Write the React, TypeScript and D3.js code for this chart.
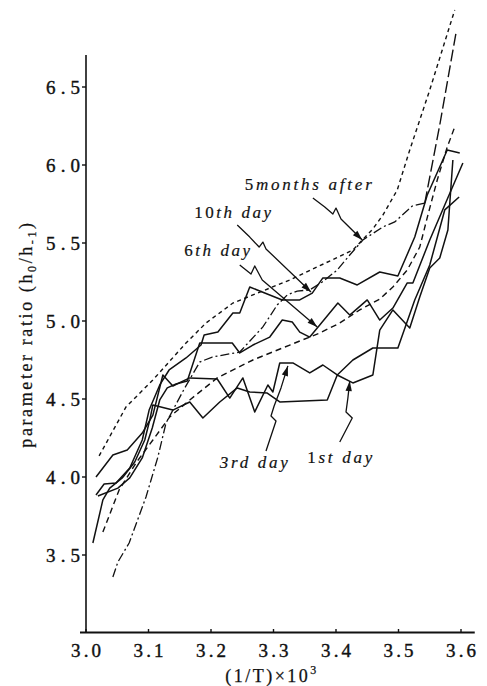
import React from "react";
import * as d3 from "d3";

type P = [number, number];

// ---- axis ticks ----
const xTicks = [3.0, 3.1, 3.2, 3.3, 3.4, 3.5, 3.6];
const xTickLabels = ["3.0", "3.1", "3.2", "3.3", "3.4", "3.5", "3.6"];
const yTicks = [3.5, 4.0, 4.5, 5.0, 5.5, 6.0, 6.5];
const yTickLabels = ["3.5", "4.0", "4.5", "5.0", "5.5", "6.0", "6.5"];

// ---- series (x = (1/T)x10^3, y = parameter ratio) ----
const curveShortDash: P[] = [
  [3.021, 4.135], [3.064, 4.449], [3.107, 4.622], [3.16, 4.859], [3.192, 4.987],
  [3.235, 5.115], [3.326, 5.263], [3.427, 5.455], [3.459, 5.59], [3.475, 5.679],
  [3.498, 5.84], [3.518, 6.096], [3.55, 6.481], [3.59, 6.994],
];

const fiveMonthsAfter: P[] = [
  [3.043, 3.359], [3.051, 3.455], [3.069, 3.577], [3.096, 3.872], [3.115, 4.128],
  [3.128, 4.346], [3.139, 4.429], [3.158, 4.571], [3.182, 4.737], [3.202, 4.769],
  [3.246, 4.801], [3.283, 4.962], [3.306, 5.103], [3.322, 5.167], [3.338, 5.192],
  [3.358, 5.199], [3.378, 5.25], [3.402, 5.327], [3.422, 5.423], [3.443, 5.519],
  [3.475, 5.603], [3.494, 5.635], [3.522, 5.737], [3.542, 5.756], [3.566, 6.256],
  [3.592, 6.846],
];
const fiveMonthsLongDashFrom = 23; // index where the dash-dot turns into long dashes

const curveMediumDash: P[] = [
  [3.027, 3.647], [3.053, 3.917], [3.08, 4.09], [3.107, 4.237], [3.134, 4.385],
  [3.166, 4.494], [3.21, 4.635], [3.267, 4.75], [3.326, 4.846], [3.374, 4.923],
  [3.406, 4.987], [3.438, 5.071], [3.47, 5.141], [3.491, 5.218], [3.514, 5.327],
  [3.534, 5.474], [3.547, 5.679], [3.562, 5.904], [3.578, 6.115], [3.59, 6.244],
];

const day10: P[] = [
  [3.016, 3.885], [3.029, 3.955], [3.048, 3.962], [3.07, 4.058], [3.09, 4.237],
  [3.101, 4.429], [3.118, 4.59], [3.133, 4.686], [3.16, 4.763], [3.184, 4.846],
  [3.189, 4.91], [3.211, 4.929], [3.235, 5.051], [3.246, 5.051], [3.262, 5.218],
  [3.274, 5.199], [3.314, 5.135], [3.342, 5.135], [3.362, 5.179], [3.379, 5.276],
  [3.406, 5.276], [3.434, 5.231], [3.47, 5.314], [3.499, 5.288], [3.526, 5.538],
  [3.546, 5.808], [3.578, 6.096], [3.598, 6.077],
];

const day6: P[] = [
  [3.019, 3.878], [3.051, 3.929], [3.07, 3.994], [3.09, 4.122], [3.106, 4.314],
  [3.118, 4.494], [3.13, 4.571], [3.144, 4.596], [3.162, 4.615], [3.182, 4.859],
  [3.234, 4.859], [3.246, 4.795], [3.267, 4.846], [3.294, 4.897], [3.314, 5.006],
  [3.33, 4.994], [3.342, 4.929], [3.358, 4.897], [3.374, 4.974], [3.403, 5.115],
  [3.422, 5.038], [3.45, 5.135], [3.47, 5.006], [3.491, 5.083], [3.514, 5.244],
  [3.523, 5.244], [3.55, 5.519], [3.574, 5.744], [3.603, 6.013],
];

const day3: P[] = [
  [3.016, 4.0], [3.043, 4.141], [3.066, 4.173], [3.09, 4.282], [3.107, 4.397],
  [3.123, 4.654], [3.139, 4.583], [3.149, 4.603], [3.166, 4.635], [3.21, 4.628],
  [3.23, 4.506], [3.251, 4.635], [3.27, 4.417], [3.291, 4.59], [3.299, 4.545],
  [3.31, 4.731], [3.331, 4.731], [3.358, 4.667], [3.379, 4.718], [3.402, 4.654],
  [3.427, 4.75], [3.459, 4.827], [3.499, 4.827], [3.526, 5.135], [3.55, 5.359],
  [3.574, 5.712], [3.597, 5.795],
];

const day1: P[] = [
  [3.011, 3.577], [3.027, 3.853], [3.038, 3.929], [3.058, 3.994], [3.078, 4.096],
  [3.094, 4.237], [3.102, 4.365], [3.107, 4.462], [3.139, 4.429], [3.166, 4.481],
  [3.187, 4.378], [3.214, 4.481], [3.242, 4.571], [3.262, 4.545], [3.29, 4.538],
  [3.31, 4.481], [3.386, 4.494], [3.402, 4.654], [3.427, 4.603], [3.459, 4.654],
  [3.47, 4.942], [3.491, 5.071], [3.518, 4.955], [3.534, 5.154], [3.55, 5.34],
  [3.566, 5.404], [3.579, 5.583], [3.587, 6.032],
];

// ---- annotation leaders (data coords), label anchors (data coords) ----
const leader5m: P[] = [[3.363, 5.788], [3.382, 5.731], [3.395, 5.686], [3.4, 5.724], [3.408, 5.654], [3.442, 5.519]];
const leader10: P[] = [[3.242, 5.615], [3.262, 5.538], [3.277, 5.474], [3.283, 5.506], [3.288, 5.462], [3.36, 5.186]];
const leader6: P[] = [[3.246, 5.359], [3.264, 5.301], [3.27, 5.353], [3.282, 5.263], [3.37, 4.962]];
const leader3: P[] = [[3.288, 4.167], [3.304, 4.359], [3.296, 4.391], [3.301, 4.455], [3.312, 4.571], [3.323, 4.712]];
const leader1: P[] = [[3.406, 4.224], [3.426, 4.378], [3.416, 4.417], [3.419, 4.506], [3.422, 4.615]];

const labelNums = ["5", "10", "6", "3rd day", "1"];
const labelRest = ["months after", "th day", "th day", "", "st day"];
const labelAnchors: P[] = [[3.254, 5.84], [3.173, 5.66], [3.157, 5.417], [3.214, 4.058], [3.354, 4.09]];
const labelWidths = [127, 77, 66, 68, 65];
const leaders = [leader5m, leader10, leader6, leader3, leader1];

const W = 487;
const H = 686;
const FONT = "'Liberation Serif', 'DejaVu Serif', serif";

export default function App() {
  const x = d3.scaleLinear().domain([3.0, 3.6]).range([86, 461]);
  const y = d3.scaleLinear().domain([3.0, 6.5]).range([633, 87]);
  const line = d3
    .line<P>()
    .x((d) => x(d[0]))
    .y((d) => y(d[1]));

  const xAxisEnd = x(3.622);
  const yAxisTop = y(6.705);

  const arrowHead = (pts: P[]) => {
    const a = pts[pts.length - 2];
    const b = pts[pts.length - 1];
    const ax = x(a[0]), ay = y(a[1]), bx = x(b[0]), by = y(b[1]);
    const dx = bx - ax, dy = by - ay;
    const len = Math.hypot(dx, dy) || 1;
    const ux = dx / len, uy = dy / len;
    const L = 10, hw = 3.2;
    const cx = bx - ux * L, cy = by - uy * L;
    return `M${bx},${by} L${cx - uy * hw},${cy + ux * hw} L${cx + uy * hw},${cy - ux * hw} Z`;
  };

  const solid = { fill: "none", stroke: "#111", strokeWidth: 1.5, strokeLinejoin: "round" as const };
  const heavy = { stroke: "#111", strokeWidth: 0.4 };

  return (
    <svg
      width={W}
      height={H}
      viewBox={`0 0 ${W} ${H}`}
      style={{ position: "absolute", left: 0, top: 0, background: "#fff", display: "block" }}
    >
      <rect x={0} y={0} width={W} height={H} fill="#fff" />

      {/* axes */}
      <line x1={x(3.0)} x2={x(3.0)} y1={yAxisTop} y2={y(3.0)} stroke="#111" strokeWidth={1.6} />
      <line x1={x(3.0) - 6} x2={xAxisEnd} y1={y(3.0) - 0.5} y2={y(3.0) - 0.5} stroke="#111" strokeWidth={2} />
      {yTicks.map((t, i) => (
        <g key={"yt" + i}>
          <line x1={x(3.0) - 4} x2={x(3.0)} y1={y(t)} y2={y(t)} stroke="#111" strokeWidth={1.4} />
          <text
            x={80}
            y={y(t) + 7}
            textAnchor="end"
            fontFamily={FONT}
            fontSize={19}
            textLength={34}
            lengthAdjust="spacing"
            fill="#111"
            {...heavy}
          >
            {yTickLabels[i]}
          </text>
        </g>
      ))}
      {xTicks.map((t, i) => (
        <g key={"xt" + i}>
          <line x1={x(t)} x2={x(t)} y1={y(3.0)} y2={y(3.0) - 4} stroke="#111" strokeWidth={1.4} />
          <text
            x={x(t) - 15}
            y={y(3.0) + 24}
            fontFamily={FONT}
            fontSize={19}
            textLength={30}
            lengthAdjust="spacing"
            fill="#111"
            {...heavy}
          >
            {xTickLabels[i]}
          </text>
        </g>
      ))}

      {/* axis titles */}
      <text
        transform={`translate(32,334) rotate(-90)`}
        textAnchor="middle"
        fontFamily={FONT}
        fontSize={18}
        letterSpacing={2.6}
        fill="#111"
        stroke="#111"
        strokeWidth={0.25}
      >
        parameter ratio (h<tspan fontSize={12} dy={4}>0</tspan>
        <tspan dy={-4}>/h</tspan>
        <tspan fontSize={12} dy={4}>-1</tspan>
        <tspan dy={-4}>)</tspan>
      </text>
      <text x={272} y={682} textAnchor="middle" fontFamily={FONT} fontSize={18} letterSpacing={2.5} fill="#111" stroke="#111" strokeWidth={0.25}>
        (1/T)×10<tspan fontSize={12} dy={-8}>3</tspan>
      </text>

      {/* series */}
      <path d={line(curveShortDash) || ""} fill="none" stroke="#111" strokeWidth={1.4} strokeDasharray="4 3.5" />
      <path
        d={line(fiveMonthsAfter.slice(0, fiveMonthsLongDashFrom + 1)) || ""}
        fill="none"
        stroke="#111"
        strokeWidth={1.3}
        strokeDasharray="9 3 2 3"
      />
      <path
        d={line(fiveMonthsAfter.slice(fiveMonthsLongDashFrom)) || ""}
        fill="none"
        stroke="#111"
        strokeWidth={1.4}
        strokeDasharray="12 4"
      />
      <path d={line(curveMediumDash) || ""} fill="none" stroke="#111" strokeWidth={1.4} strokeDasharray="6 4" />
      <path d={line(day10) || ""} {...solid} />
      <path d={line(day6) || ""} {...solid} />
      <path d={line(day3) || ""} {...solid} />
      <path d={line(day1) || ""} {...solid} />

      {/* annotations */}
      {leaders.map((pts, i) => (
        <g key={"ld" + i}>
          <path d={line(pts) || ""} fill="none" stroke="#111" strokeWidth={1.3} strokeLinejoin="round" />
          <path d={arrowHead(pts)} fill="#111" />
        </g>
      ))}
      {labelAnchors.map((a, i) => (
        <text
          key={"lb" + i}
          x={x(a[0])}
          y={y(a[1])}
          fontFamily={FONT}
          fontSize={17}
          textLength={labelWidths[i]}
          lengthAdjust="spacing"
          fill="#111"
          stroke="#111"
          strokeWidth={0.2}
        >
          <tspan fontStyle={i === 3 ? "italic" : "normal"}>{labelNums[i]}</tspan>
          <tspan fontStyle="italic">{labelRest[i]}</tspan>
        </text>
      ))}
    </svg>
  );
}
